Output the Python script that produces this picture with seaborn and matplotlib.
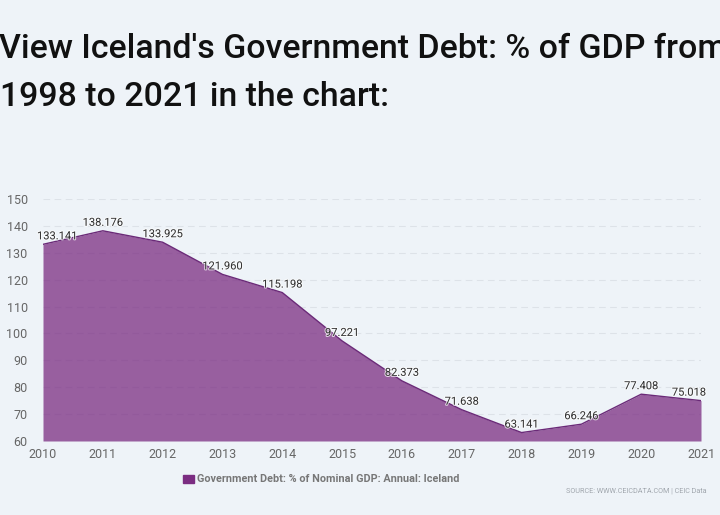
import matplotlib
matplotlib.use('Agg')
import matplotlib.pyplot as plt
import matplotlib.patheffects as pe
from matplotlib.patches import Patch
import seaborn as sns
import pandas as pd

years = [2010, 2011, 2012, 2013, 2014, 2015, 2016, 2017, 2018, 2019, 2020, 2021]
debt = [133.141, 138.176, 133.925, 121.960, 115.198, 97.221, 82.373, 71.638, 63.141, 66.246, 77.408, 75.018]
yticks = [60, 70, 80, 90, 100, 110, 120, 130, 140, 150]
series_name = 'Government Debt: % of Nominal GDP: Annual: Iceland'

bg = '#eef3f8'
purple = '#7b2d82'
sns.set_theme(style='white')
plt.rcParams['font.family'] = ['Roboto', 'DejaVu Sans']

df = pd.DataFrame({'year': years, 'debt': debt})

fig = plt.figure(figsize=(7.2, 5.15), dpi=100, facecolor=bg)
ax = fig.add_axes([43 / 720, 1 - 441 / 515, 658 / 720, 242 / 515], facecolor=bg)

ax.fill_between(df['year'], df['debt'], 60, color=purple, alpha=0.75, linewidth=0, zorder=2)
sns.lineplot(data=df, x='year', y='debt', color='#6b2a78', linewidth=1, ax=ax, zorder=3)

# end labels get pushed inside the plot
for yr, val in zip(years, debt):
    ha, dx = 'center', 0
    if yr == years[0]:
        ha, dx = 'left', -6
    elif yr == years[-1]:
        ha, dx = 'right', 5
    ax.annotate(f'{val:.3f}', (yr, val), xytext=(dx, 3), textcoords='offset pixels', ha=ha, va='bottom',
                fontsize=8, color='#333333', zorder=4, annotation_clip=False,
                path_effects=[pe.withStroke(linewidth=1.5, foreground='white', alpha=0.7)])

ax.set_xlim(2010, 2021)
ax.set_ylim(60, 150)
ax.set_xticks(years)
ax.set_yticks(yticks)
ax.set_xlabel('')
ax.set_ylabel('')
ax.tick_params(axis='x', length=0, labelsize=9, labelcolor='#666666', pad=5)
ax.tick_params(axis='y', length=0, labelsize=9, labelcolor='#666666', pad=11)
ax.yaxis.grid(True, color='#dde2e8', linestyle=(0, (6, 4)), linewidth=0.8)
ax.set_axisbelow(True)
sns.despine(ax=ax, left=True, bottom=True, top=True, right=True)

fig.text(-1 / 720, 1 - 49.5 / 515, "View Iceland's Government Debt: % of GDP from", fontsize=24.4, fontweight='medium',
         color='#111111', va='center', ha='left')
fig.text(0, 1 - 97.5 / 515, '1998 to 2021 in the chart:', fontsize=24.4, fontweight='medium',
         color='#111111', va='center', ha='left')

fig.legend(handles=[Patch(color=purple, label=series_name)], loc='center left',
           bbox_to_anchor=(173 / 720, 1 - 479.5 / 515), frameon=False,
           labelcolor='#777777', handlelength=1.0, handleheight=0.7, handletextpad=0.3,
           prop={'weight': 'bold', 'size': 7.85})

fig.text(707 / 720, 1 - 491 / 515, 'SOURCE: WWW.CEICDATA.COM | CEIC Data', fontsize=5.2, color='#a0a6ad',
         ha='right', va='center')

fig.savefig('out.png', dpi=100, facecolor=bg)
